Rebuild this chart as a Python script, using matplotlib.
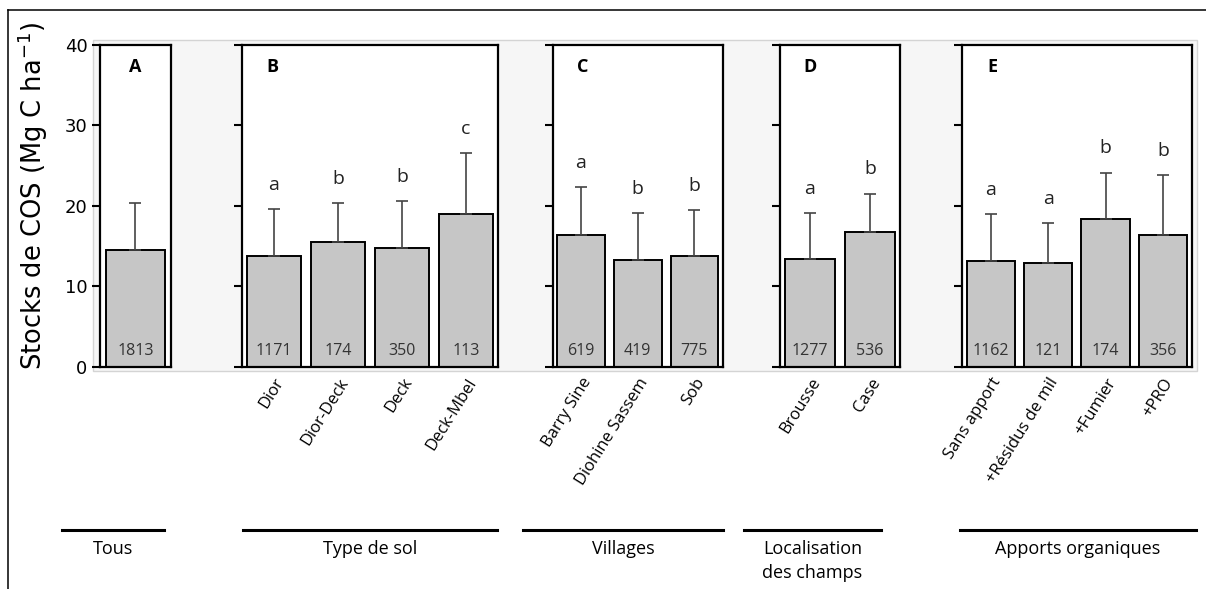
import matplotlib
matplotlib.use("Agg")
import matplotlib.pyplot as plt
from matplotlib.lines import Line2D
from matplotlib.patches import Rectangle

# Soil organic carbon stocks (Mg C/ha): mean, mean + SD, sample size, letter group
tous_labels = [""]
tous_mean = [14.5]
tous_upper = [20.3]
tous_n = [1813]
tous_letters = [""]

sol_labels = ["Dior", "Dior-Deck", "Deck", "Deck-Mbel"]
sol_mean = [13.8, 15.5, 14.7, 18.95]
sol_upper = [19.6, 20.35, 20.6, 26.5]
sol_n = [1171, 174, 350, 113]
sol_letters = ["a", "b", "b", "c"]

village_labels = ["Barry Sine", "Diohine Sassem", "Sob"]
village_mean = [16.3, 13.2, 13.7]
village_upper = [22.3, 19.1, 19.4]
village_n = [619, 419, 775]
village_letters = ["a", "b", "b"]

champ_labels = ["Brousse", "Case"]
champ_mean = [13.4, 16.75]
champ_upper = [19.1, 21.5]
champ_n = [1277, 536]
champ_letters = ["a", "b"]

apport_labels = ["Sans apport", "+Résidus de mil", "+Fumier", "+PRO"]
apport_mean = [13.15, 12.9, 18.3, 16.3]
apport_upper = [18.9, 17.8, 24.1, 23.8]
apport_n = [1162, 121, 174, 356]
apport_letters = ["a", "a", "b", "b"]

panels = [
    ("A", tous_labels, tous_mean, tous_upper, tous_n, tous_letters),
    ("B", sol_labels, sol_mean, sol_upper, sol_n, sol_letters),
    ("C", village_labels, village_mean, village_upper, village_n, village_letters),
    ("D", champ_labels, champ_mean, champ_upper, champ_n, champ_letters),
    ("E", apport_labels, apport_mean, apport_upper, apport_n, apport_letters),
]

group_names = ["Tous", "Type de sol", "Villages", "Localisation\ndes champs", "Apports organiques"]

W, H = 1206, 589
fig = plt.figure(figsize=(W / 100, H / 100), dpi=100)
fig.patch.set_facecolor("white")

# panel frames in pixels (left, right); common top/bottom
panel_x = [(100, 170.7), (242, 498), (552.7, 722.7), (780, 900), (962, 1191.7)]
top_px, bot_px = 44.5, 366.7

# faint grey plotting area behind the panels
fig.add_artist(Rectangle((93 / W, 1 - 371 / H), (1197 - 93) / W, (371 - 40) / H,
                         transform=fig.transFigure, facecolor="#f6f6f6",
                         edgecolor="#d4d4d4", lw=1.0, zorder=0))

sans = ["Open Sans", "DejaVu Sans"]

for i, (tag, labels, mean, upper, n, letters) in enumerate(panels):
    x0, x1 = panel_x[i]
    ax = fig.add_axes([x0 / W, 1 - bot_px / H, (x1 - x0) / W, (bot_px - top_px) / H])
    ax.set_facecolor("white")
    xs = list(range(len(mean)))
    err = [u - m for u, m in zip(upper, mean)]
    ax.bar(xs, mean, width=0.84, color="#c6c6c6", edgecolor="black", lw=1.4, zorder=2)
    ax.errorbar(xs, mean, yerr=[[0] * len(mean), err], fmt="none", ecolor="#444444",
                elinewidth=1.2, capsize=4, capthick=1.2, zorder=3)
    for x, u, cnt, let in zip(xs, upper, n, letters):
        ax.text(x, 1.9, str(cnt), ha="center", va="center", fontsize=11.5,
                color="#333333", family=sans, zorder=4)
        if let:
            ax.text(x, u + 3.0, let, ha="center", va="center", fontsize=14,
                    color="#222222", family=sans, zorder=4)
    tag_x = 0.5 if tag == "A" else 30 / (x1 - x0)
    ax.text(tag_x, 0.93, tag, transform=ax.transAxes, ha="center", va="center",
            fontsize=13, fontweight="bold", family=sans)
    ax.set_xlim(-0.5, len(mean) - 0.5)
    ax.set_ylim(0, 40)
    ax.set_yticks([0, 10, 20, 30, 40])
    ax.tick_params(axis="y", direction="out", length=6, width=1.5, pad=3,
                   labelsize=13, left=True, right=False)
    if i > 0:
        ax.set_yticklabels([])
    ax.set_xticks(xs)
    if i == 0:
        ax.set_xticklabels([])
        ax.tick_params(axis="x", length=0)
    else:
        ax.set_xticklabels(labels, rotation=58, ha="right", rotation_mode="anchor",
                           fontsize=12, family=sans)
        ax.tick_params(axis="x", length=0, pad=6)
    for s in ax.spines.values():
        s.set_linewidth(1.6)

fig.text(33 / W, 1 - 196 / H, "Stocks de COS (Mg C ha$^{-1}$)", rotation=90,
         ha="center", va="center", fontsize=18.5, family="DejaVu Sans")

# group bars and captions under the tick labels
group_lines = [(62, 164), (243, 497), (523, 723), (744, 881), (960, 1196)]
line_y = 530
for (a, b), name in zip(group_lines, group_names):
    fig.add_artist(Line2D([a / W, b / W], [1 - line_y / H, 1 - line_y / H],
                          color="black", lw=2.2, transform=fig.transFigure))
    fig.text((a + b) / 2 / W, 1 - 540 / H, name, ha="center", va="top",
             fontsize=13, family=sans, linespacing=1.45)

# outer border (top and left edges)
fig.add_artist(Line2D([8 / W, 1.0], [1 - 10 / H, 1 - 10 / H], color="black", lw=1.1,
                      transform=fig.transFigure))
fig.add_artist(Line2D([8 / W, 8 / W], [0, 1 - 10 / H], color="black", lw=1.1,
                      transform=fig.transFigure))

fig.savefig("out.png", dpi=100)
